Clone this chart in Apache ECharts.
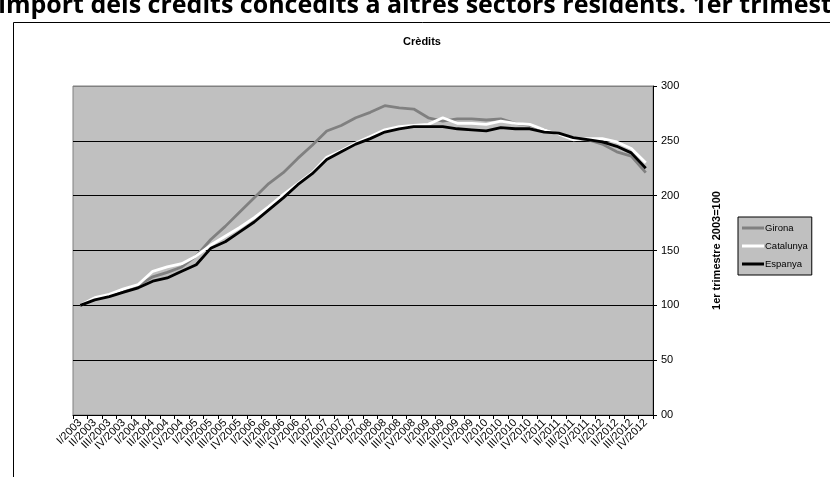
<!DOCTYPE html>
<html><head><meta charset="utf-8">
<script src="https://cdn.jsdelivr.net/npm/echarts@6/dist/echarts.min.js"></script>
<style>html,body{margin:0;padding:0;background:#fff;}#c{width:830px;height:477px;}</style>
</head><body><div id="c"></div>
<script>
const categories = [];
const years = ['2003','2004','2005','2006','2007','2008','2009','2010','2011','2012'];
const quarters = ['I','II','III','IV'];
years.forEach(y => quarters.forEach(q => categories.push(q + '/' + y)));

const girona = [100,106,109,113,118,126,130,135,145,160,172,185,198,211,221,234,246,259,264,271,276,282,280,279,271,268,270,270,269,270,266,264,260,256,252,251,247,240,236,221];
const catalunya = [100,107,110,115,119,131,135,138,145,155,163,171,180,190,201,211,221,235,241,248,254,260,263,264,265,271,266,266,265,268,266,265,260,256,251,252,252,249,243,230];
const espanya = [100,105,108,112,116,122,125,131,137,152,158,167,176,187,198,210,220,233,240,247,252,258,261,263,263,263,261,260,259,262,261,261,258,257,253,251,249,245,239,225];

const yLabel = v => v === 0 ? '00' : String(v);

const chart = echarts.init(document.getElementById('c'));
const F = 'Liberation Sans, Arial, sans-serif';
chart.setOption({
  animation: false,
  backgroundColor: '#fff',
  graphic: [
    {type:'rect', z:-10, shape:{x:13.5,y:22.5,width:830,height:470}, style:{fill:'#fff', stroke:'#000', lineWidth:1}},
    {type:'text', z:10, style:{x:-16, y:-7, text:"l'import dels crèdits concedits a altres sectors residents. 1er trimestre 2003=100", font:'bold 25px "Open Sans", sans-serif', fill:'#000'}}
  ],
  title: {text:'Crèdits', left:417, top:31, textAlign:'center', textStyle:{fontFamily:F, fontSize:11, fontWeight:'bold', color:'#000'}},
  legend: {
    orient:'vertical', left:738, top:217, padding:[6,4,6,4],
    backgroundColor:'#C0C0C0', borderColor:'#000', borderWidth:1,
    itemWidth:22, itemHeight:3, itemGap:8, icon:'rect',
    textStyle:{fontFamily:F, fontSize:9.5, color:'#000', padding:[0,0,0,-4]},
    data:['Girona','Catalunya','Espanya']
  },
  grid: {left:73, right:177, top:86, bottom:62, show:true, backgroundColor:'#C0C0C0', borderColor:'#808080', borderWidth:1},
  xAxis: {
    type:'category', data:categories, boundaryGap:true,
    axisLine:{lineStyle:{color:'#000', width:1}},
    axisTick:{show:true, interval:0, length:4, lineStyle:{color:'#000'}},
    axisLabel:{interval:0, rotate:45, fontFamily:F, fontSize:11, color:'#000', margin:6}
  },
  yAxis: {
    type:'value', position:'right', min:0, max:300, interval:50,
    name:'1er trimestre 2003=100', nameLocation:'middle', nameRotate:90, nameGap:58,
    nameTextStyle:{fontFamily:F, fontSize:11, fontWeight:'bold', color:'#000'},
    axisLine:{show:true, lineStyle:{color:'#000'}},
    axisTick:{show:true, length:4, lineStyle:{color:'#000'}},
    axisLabel:{fontFamily:F, fontSize:11, color:'#000', margin:8, formatter:yLabel},
    splitLine:{show:true, lineStyle:{color:['#000','#000','#000','#000','#000','#000','#808080'], width:1}}
  },
  series: [
    {name:'Girona', type:'line', data:girona, symbol:'none', lineStyle:{color:'#808080', width:2.8}, itemStyle:{color:'#808080'}},
    {name:'Catalunya', type:'line', data:catalunya, symbol:'none', lineStyle:{color:'#FFFFFF', width:2.8}, itemStyle:{color:'#FFFFFF'}},
    {name:'Espanya', type:'line', data:espanya, symbol:'none', lineStyle:{color:'#000000', width:2.8}, itemStyle:{color:'#000000'}}
  ]
});
</script></body></html>
